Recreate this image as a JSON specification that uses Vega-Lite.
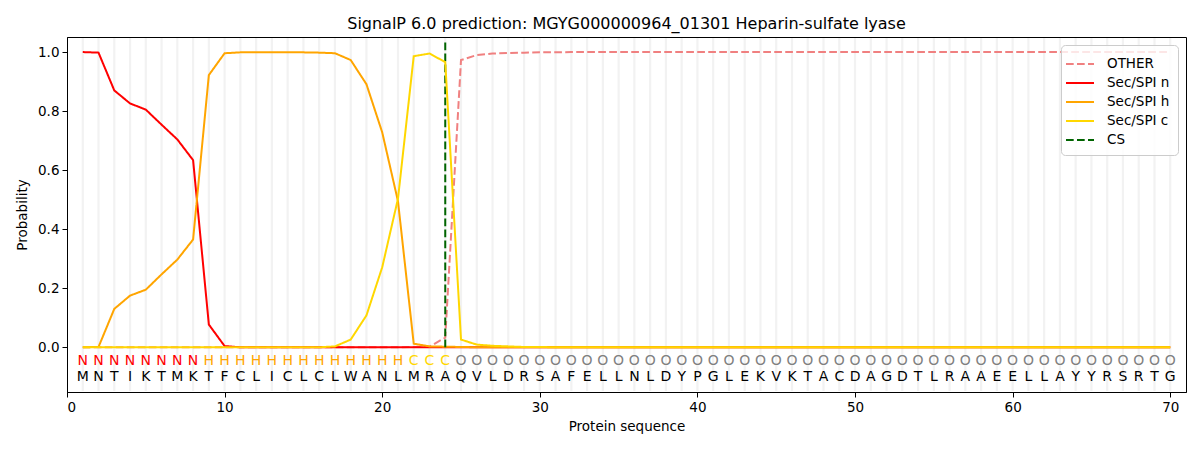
{
  "$schema": "https://vega.github.io/schema/vega-lite/v6.json",
  "width": 1119,
  "height": 355,
  "autosize": {"type": "none"},
  "padding": {"left": 67, "top": 37, "right": 14, "bottom": 58},
  "title": {"text": "SignalP 6.0 prediction: MGYG000000964_01301 Heparin-sulfate lyase", "fontSize": 16, "fontWeight": "normal", "font": "DejaVu Sans", "color": "black", "offset": 5},
  "config": {
    "view": {"stroke": "black", "strokeWidth": 1},
    "font": "DejaVu Sans",
    "axis": {"labelFont": "DejaVu Sans", "titleFont": "DejaVu Sans", "labelFontSize": 13.5, "titleFontSize": 13.5, "titleFontWeight": "normal", "labelColor": "black", "titleColor": "black", "domainColor": "black", "tickColor": "black", "tickSize": 5, "labelPadding": 3, "grid": false},
    "legend": {"labelFont": "DejaVu Sans", "labelFontSize": 13.5, "labelColor": "black"}
  },
  "datasets": {
    "seq": [
      {"pos": 1, "aa": "M", "lab": "N", "OTHER": 0, "Sec/SPI n": 1.0, "Sec/SPI h": 0.0, "Sec/SPI c": 0.0},
      {"pos": 2, "aa": "N", "lab": "N", "OTHER": 0, "Sec/SPI n": 0.998, "Sec/SPI h": 0.001, "Sec/SPI c": 0.0},
      {"pos": 3, "aa": "T", "lab": "N", "OTHER": 0, "Sec/SPI n": 0.870, "Sec/SPI h": 0.130, "Sec/SPI c": 0.0},
      {"pos": 4, "aa": "I", "lab": "N", "OTHER": 0, "Sec/SPI n": 0.826, "Sec/SPI h": 0.175, "Sec/SPI c": 0.0},
      {"pos": 5, "aa": "K", "lab": "N", "OTHER": 0, "Sec/SPI n": 0.805, "Sec/SPI h": 0.195, "Sec/SPI c": 0.0},
      {"pos": 6, "aa": "T", "lab": "N", "OTHER": 0, "Sec/SPI n": 0.754, "Sec/SPI h": 0.247, "Sec/SPI c": 0.0},
      {"pos": 7, "aa": "M", "lab": "N", "OTHER": 0, "Sec/SPI n": 0.704, "Sec/SPI h": 0.297, "Sec/SPI c": 0.0},
      {"pos": 8, "aa": "K", "lab": "N", "OTHER": 0, "Sec/SPI n": 0.634, "Sec/SPI h": 0.365, "Sec/SPI c": 0.0},
      {"pos": 9, "aa": "T", "lab": "H", "OTHER": 0, "Sec/SPI n": 0.077, "Sec/SPI h": 0.922, "Sec/SPI c": 0.0},
      {"pos": 10, "aa": "F", "lab": "H", "OTHER": 0, "Sec/SPI n": 0.004, "Sec/SPI h": 0.996, "Sec/SPI c": 0.0},
      {"pos": 11, "aa": "C", "lab": "H", "OTHER": 0, "Sec/SPI n": 0.0, "Sec/SPI h": 0.999, "Sec/SPI c": 0.0},
      {"pos": 12, "aa": "L", "lab": "H", "OTHER": 0, "Sec/SPI n": 0.0, "Sec/SPI h": 0.999, "Sec/SPI c": 0.0},
      {"pos": 13, "aa": "I", "lab": "H", "OTHER": 0, "Sec/SPI n": 0.0, "Sec/SPI h": 0.999, "Sec/SPI c": 0.0},
      {"pos": 14, "aa": "C", "lab": "H", "OTHER": 0, "Sec/SPI n": 0.0, "Sec/SPI h": 0.999, "Sec/SPI c": 0.0},
      {"pos": 15, "aa": "L", "lab": "H", "OTHER": 0, "Sec/SPI n": 0.0, "Sec/SPI h": 0.999, "Sec/SPI c": 0.0},
      {"pos": 16, "aa": "C", "lab": "H", "OTHER": 0, "Sec/SPI n": 0.0, "Sec/SPI h": 0.998, "Sec/SPI c": 0.0},
      {"pos": 17, "aa": "L", "lab": "H", "OTHER": 0, "Sec/SPI n": 0.0, "Sec/SPI h": 0.996, "Sec/SPI c": 0.003},
      {"pos": 18, "aa": "W", "lab": "H", "OTHER": 0, "Sec/SPI n": 0.0, "Sec/SPI h": 0.973, "Sec/SPI c": 0.026},
      {"pos": 19, "aa": "A", "lab": "H", "OTHER": 0, "Sec/SPI n": 0.0, "Sec/SPI h": 0.891, "Sec/SPI c": 0.108},
      {"pos": 20, "aa": "N", "lab": "H", "OTHER": 0, "Sec/SPI n": 0.0, "Sec/SPI h": 0.728, "Sec/SPI c": 0.271},
      {"pos": 21, "aa": "L", "lab": "H", "OTHER": 0, "Sec/SPI n": 0.0, "Sec/SPI h": 0.495, "Sec/SPI c": 0.503},
      {"pos": 22, "aa": "M", "lab": "C", "OTHER": 0.001, "Sec/SPI n": 0.0, "Sec/SPI h": 0.012, "Sec/SPI c": 0.986},
      {"pos": 23, "aa": "R", "lab": "C", "OTHER": 0.002, "Sec/SPI n": 0.0, "Sec/SPI h": 0.003, "Sec/SPI c": 0.995},
      {"pos": 24, "aa": "A", "lab": "C", "OTHER": 0.033, "Sec/SPI n": 0.0, "Sec/SPI h": 0.002, "Sec/SPI c": 0.966},
      {"pos": 25, "aa": "Q", "lab": "O", "OTHER": 0.973, "Sec/SPI n": 0.0, "Sec/SPI h": 0.001, "Sec/SPI c": 0.026},
      {"pos": 26, "aa": "V", "lab": "O", "OTHER": 0.990, "Sec/SPI n": 0.0, "Sec/SPI h": 0.0, "Sec/SPI c": 0.009},
      {"pos": 27, "aa": "L", "lab": "O", "OTHER": 0.995, "Sec/SPI n": 0.0, "Sec/SPI h": 0.0, "Sec/SPI c": 0.005},
      {"pos": 28, "aa": "D", "lab": "O", "OTHER": 0.997, "Sec/SPI n": 0.0, "Sec/SPI h": 0.0, "Sec/SPI c": 0.003},
      {"pos": 29, "aa": "R", "lab": "O", "OTHER": 0.998, "Sec/SPI n": 0.0, "Sec/SPI h": 0.0, "Sec/SPI c": 0.001},
      {"pos": 30, "aa": "S", "lab": "O", "OTHER": 0.999, "Sec/SPI n": 0.0, "Sec/SPI h": 0.0, "Sec/SPI c": 0.001},
      {"pos": 31, "aa": "A", "lab": "O", "OTHER": 0.999, "Sec/SPI n": 0.0, "Sec/SPI h": 0.0, "Sec/SPI c": 0.0},
      {"pos": 32, "aa": "F", "lab": "O", "OTHER": 1.0, "Sec/SPI n": 0.0, "Sec/SPI h": 0.0, "Sec/SPI c": 0.0},
      {"pos": 33, "aa": "E", "lab": "O", "OTHER": 1.0, "Sec/SPI n": 0.0, "Sec/SPI h": 0.0, "Sec/SPI c": 0.0},
      {"pos": 34, "aa": "L", "lab": "O", "OTHER": 1.0, "Sec/SPI n": 0.0, "Sec/SPI h": 0.0, "Sec/SPI c": 0.0},
      {"pos": 35, "aa": "L", "lab": "O", "OTHER": 1.0, "Sec/SPI n": 0.0, "Sec/SPI h": 0.0, "Sec/SPI c": 0.0},
      {"pos": 36, "aa": "N", "lab": "O", "OTHER": 1.0, "Sec/SPI n": 0.0, "Sec/SPI h": 0.0, "Sec/SPI c": 0.0},
      {"pos": 37, "aa": "L", "lab": "O", "OTHER": 1.0, "Sec/SPI n": 0.0, "Sec/SPI h": 0.0, "Sec/SPI c": 0.0},
      {"pos": 38, "aa": "D", "lab": "O", "OTHER": 1.0, "Sec/SPI n": 0.0, "Sec/SPI h": 0.0, "Sec/SPI c": 0.0},
      {"pos": 39, "aa": "Y", "lab": "O", "OTHER": 1.0, "Sec/SPI n": 0.0, "Sec/SPI h": 0.0, "Sec/SPI c": 0.0},
      {"pos": 40, "aa": "P", "lab": "O", "OTHER": 1.0, "Sec/SPI n": 0.0, "Sec/SPI h": 0.0, "Sec/SPI c": 0.0},
      {"pos": 41, "aa": "G", "lab": "O", "OTHER": 1.0, "Sec/SPI n": 0.0, "Sec/SPI h": 0.0, "Sec/SPI c": 0.0},
      {"pos": 42, "aa": "L", "lab": "O", "OTHER": 1.0, "Sec/SPI n": 0.0, "Sec/SPI h": 0.0, "Sec/SPI c": 0.0},
      {"pos": 43, "aa": "E", "lab": "O", "OTHER": 1.0, "Sec/SPI n": 0.0, "Sec/SPI h": 0.0, "Sec/SPI c": 0.0},
      {"pos": 44, "aa": "K", "lab": "O", "OTHER": 1.0, "Sec/SPI n": 0.0, "Sec/SPI h": 0.0, "Sec/SPI c": 0.0},
      {"pos": 45, "aa": "V", "lab": "O", "OTHER": 1.0, "Sec/SPI n": 0.0, "Sec/SPI h": 0.0, "Sec/SPI c": 0.0},
      {"pos": 46, "aa": "K", "lab": "O", "OTHER": 1.0, "Sec/SPI n": 0.0, "Sec/SPI h": 0.0, "Sec/SPI c": 0.0},
      {"pos": 47, "aa": "T", "lab": "O", "OTHER": 1.0, "Sec/SPI n": 0.0, "Sec/SPI h": 0.0, "Sec/SPI c": 0.0},
      {"pos": 48, "aa": "A", "lab": "O", "OTHER": 1.0, "Sec/SPI n": 0.0, "Sec/SPI h": 0.0, "Sec/SPI c": 0.0},
      {"pos": 49, "aa": "C", "lab": "O", "OTHER": 1.0, "Sec/SPI n": 0.0, "Sec/SPI h": 0.0, "Sec/SPI c": 0.0},
      {"pos": 50, "aa": "D", "lab": "O", "OTHER": 1.0, "Sec/SPI n": 0.0, "Sec/SPI h": 0.0, "Sec/SPI c": 0.0},
      {"pos": 51, "aa": "A", "lab": "O", "OTHER": 1.0, "Sec/SPI n": 0.0, "Sec/SPI h": 0.0, "Sec/SPI c": 0.0},
      {"pos": 52, "aa": "G", "lab": "O", "OTHER": 1.0, "Sec/SPI n": 0.0, "Sec/SPI h": 0.0, "Sec/SPI c": 0.0},
      {"pos": 53, "aa": "D", "lab": "O", "OTHER": 1.0, "Sec/SPI n": 0.0, "Sec/SPI h": 0.0, "Sec/SPI c": 0.0},
      {"pos": 54, "aa": "T", "lab": "O", "OTHER": 1.0, "Sec/SPI n": 0.0, "Sec/SPI h": 0.0, "Sec/SPI c": 0.0},
      {"pos": 55, "aa": "L", "lab": "O", "OTHER": 1.0, "Sec/SPI n": 0.0, "Sec/SPI h": 0.0, "Sec/SPI c": 0.0},
      {"pos": 56, "aa": "R", "lab": "O", "OTHER": 1.0, "Sec/SPI n": 0.0, "Sec/SPI h": 0.0, "Sec/SPI c": 0.0},
      {"pos": 57, "aa": "A", "lab": "O", "OTHER": 1.0, "Sec/SPI n": 0.0, "Sec/SPI h": 0.0, "Sec/SPI c": 0.0},
      {"pos": 58, "aa": "A", "lab": "O", "OTHER": 1.0, "Sec/SPI n": 0.0, "Sec/SPI h": 0.0, "Sec/SPI c": 0.0},
      {"pos": 59, "aa": "E", "lab": "O", "OTHER": 1.0, "Sec/SPI n": 0.0, "Sec/SPI h": 0.0, "Sec/SPI c": 0.0},
      {"pos": 60, "aa": "E", "lab": "O", "OTHER": 1.0, "Sec/SPI n": 0.0, "Sec/SPI h": 0.0, "Sec/SPI c": 0.0},
      {"pos": 61, "aa": "L", "lab": "O", "OTHER": 1.0, "Sec/SPI n": 0.0, "Sec/SPI h": 0.0, "Sec/SPI c": 0.0},
      {"pos": 62, "aa": "L", "lab": "O", "OTHER": 1.0, "Sec/SPI n": 0.0, "Sec/SPI h": 0.0, "Sec/SPI c": 0.0},
      {"pos": 63, "aa": "A", "lab": "O", "OTHER": 1.0, "Sec/SPI n": 0.0, "Sec/SPI h": 0.0, "Sec/SPI c": 0.0},
      {"pos": 64, "aa": "Y", "lab": "O", "OTHER": 1.0, "Sec/SPI n": 0.0, "Sec/SPI h": 0.0, "Sec/SPI c": 0.0},
      {"pos": 65, "aa": "Y", "lab": "O", "OTHER": 1.0, "Sec/SPI n": 0.0, "Sec/SPI h": 0.0, "Sec/SPI c": 0.0},
      {"pos": 66, "aa": "R", "lab": "O", "OTHER": 1.0, "Sec/SPI n": 0.0, "Sec/SPI h": 0.0, "Sec/SPI c": 0.0},
      {"pos": 67, "aa": "S", "lab": "O", "OTHER": 1.0, "Sec/SPI n": 0.0, "Sec/SPI h": 0.0, "Sec/SPI c": 0.0},
      {"pos": 68, "aa": "R", "lab": "O", "OTHER": 1.0, "Sec/SPI n": 0.0, "Sec/SPI h": 0.0, "Sec/SPI c": 0.0},
      {"pos": 69, "aa": "T", "lab": "O", "OTHER": 1.0, "Sec/SPI n": 0.0, "Sec/SPI h": 0.0, "Sec/SPI c": 0.0},
      {"pos": 70, "aa": "G", "lab": "O", "OTHER": 1.0, "Sec/SPI n": 0.0, "Sec/SPI h": 0.0, "Sec/SPI c": 0.0}
    ],
    "cs": [{"pos": 24, "y0": 0, "y1": 1.038, "series": "CS"}]
  },
  "data": {"name": "seq"},
  "encoding": {
    "x": {"field": "pos", "type": "quantitative", "scale": {"domain": [0, 71], "nice": false, "zero": false},
      "axis": {"title": "Protein sequence", "values": [0, 10, 20, 30, 40, 50, 60, 70], "titlePadding": 6}}
  },
  "layer": [
    {
      "mark": {"type": "rule", "color": "#f2f2f2", "strokeWidth": 2.2},
      "encoding": {
        "y": {"datum": -0.148, "type": "quantitative", "scale": {"domain": [-0.1515, 1.051], "nice": false, "zero": false},
          "axis": {"title": "Probability", "values": [0, 0.2, 0.4, 0.6, 0.8, 1.0], "format": ".1f", "titlePadding": 8}},
        "y2": {"datum": 1.048}
      }
    },
    {
      "transform": [{"fold": ["OTHER"], "as": ["series", "prob"]}],
      "mark": {"type": "line", "strokeWidth": 2},
      "encoding": {
        "y": {"field": "prob", "type": "quantitative"},
        "color": {"field": "series", "type": "nominal",
          "scale": {"domain": ["OTHER", "Sec/SPI n", "Sec/SPI h", "Sec/SPI c", "CS"], "range": ["#f08080", "#ff0000", "#ffa500", "#ffd700", "#006400"]},
          "legend": {"title": null, "orient": "top-right", "offset": 8, "fillColor": "rgba(255,255,255,0.8)", "strokeColor": "#cccccc", "cornerRadius": 4, "padding": 8, "symbolType": "M-1.4,0L1.4,0", "symbolSize": 400, "symbolStrokeWidth": 2, "labelOffset": 16, "rowPadding": 1}},
        "strokeDash": {"field": "series", "type": "nominal",
          "scale": {"domain": ["OTHER", "Sec/SPI n", "Sec/SPI h", "Sec/SPI c", "CS"], "range": [[7.7, 3.3], [1, 0], [1, 0], [1, 0], [7.7, 3.3]]},
          "legend": {"title": null, "orient": "top-right", "offset": 8, "fillColor": "rgba(255,255,255,0.8)", "strokeColor": "#cccccc", "cornerRadius": 4, "padding": 8, "symbolType": "M-1.4,0L1.4,0", "symbolSize": 400, "symbolStrokeWidth": 2, "labelOffset": 16, "rowPadding": 1}}
      }
    },
    {
      "transform": [{"fold": ["Sec/SPI n"], "as": ["series", "prob"]}],
      "mark": {"type": "line", "strokeWidth": 2},
      "encoding": {
        "y": {"field": "prob", "type": "quantitative"},
        "color": {"field": "series", "type": "nominal"},
        "strokeDash": {"field": "series", "type": "nominal"}
      }
    },
    {
      "transform": [{"fold": ["Sec/SPI h"], "as": ["series", "prob"]}],
      "mark": {"type": "line", "strokeWidth": 2},
      "encoding": {
        "y": {"field": "prob", "type": "quantitative"},
        "color": {"field": "series", "type": "nominal"},
        "strokeDash": {"field": "series", "type": "nominal"}
      }
    },
    {
      "data": {"name": "cs"},
      "mark": {"type": "rule", "strokeWidth": 2},
      "encoding": {
        "y": {"field": "y0", "type": "quantitative"},
        "y2": {"field": "y1"},
        "color": {"field": "series", "type": "nominal"},
        "strokeDash": {"field": "series", "type": "nominal"}
      }
    },
    {
      "transform": [{"filter": "datum.lab === 'N'"}],
      "mark": {"type": "text", "color": "#ff0000", "fontSize": 14, "font": "DejaVu Sans", "baseline": "middle"},
      "encoding": {"y": {"datum": -0.047, "type": "quantitative"}, "text": {"field": "lab"}}
    },
    {
      "transform": [{"filter": "datum.lab === 'H'"}],
      "mark": {"type": "text", "color": "#ffa500", "fontSize": 14, "font": "DejaVu Sans", "baseline": "middle"},
      "encoding": {"y": {"datum": -0.047, "type": "quantitative"}, "text": {"field": "lab"}}
    },
    {
      "transform": [{"filter": "datum.lab === 'C'"}],
      "mark": {"type": "text", "color": "#ffd700", "fontSize": 14, "font": "DejaVu Sans", "baseline": "middle"},
      "encoding": {"y": {"datum": -0.047, "type": "quantitative"}, "text": {"field": "lab"}}
    },
    {
      "transform": [{"filter": "datum.lab === 'O'"}],
      "mark": {"type": "text", "color": "#808080", "fontSize": 14, "font": "DejaVu Sans", "baseline": "middle"},
      "encoding": {"y": {"datum": -0.047, "type": "quantitative"}, "text": {"field": "lab"}}
    },
    {
      "mark": {"type": "text", "color": "#000000", "fontSize": 14, "font": "DejaVu Sans", "baseline": "middle"},
      "encoding": {"y": {"datum": -0.10, "type": "quantitative"}, "text": {"field": "aa"}}
    },
    {
      "transform": [{"fold": ["Sec/SPI c"], "as": ["series", "prob"]}],
      "mark": {"type": "line", "strokeWidth": 2},
      "encoding": {
        "y": {"field": "prob", "type": "quantitative"},
        "color": {"field": "series", "type": "nominal"},
        "strokeDash": {"field": "series", "type": "nominal"}
      }
    }
  ]
}
